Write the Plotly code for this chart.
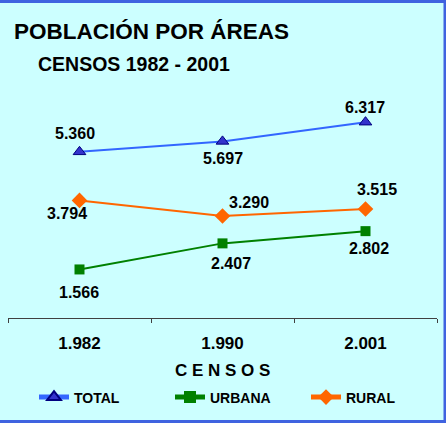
import plotly.graph_objects as go

categories = ["1.982", "1.990", "2.001"]
total = [5360, 5697, 6317]
urbana = [1566, 2407, 2802]
rural = [3794, 3290, 3515]

series_names = ["TOTAL", "URBANA", "RURAL"]

# label offsets (pixels) relative to each point: (dx, dy up)
label_offsets = {
    "TOTAL": [(-5, 18), (0, -17), (-1, 15)],
    "URBANA": [(-1, -23), (8, -20), (3, -17)],
    "RURAL": [(-13, -13), (26, 14), (11, 20)],
}

FONT = "Liberation Sans, Arial, sans-serif"
BG = "#CCFFFF"

W, H = 446, 423
L, R, T, B = 8, 9, 101, 105
pw, ph = W - L - R, H - T - B


def px_x(px):
    return (px - L) / pw


def px_y(py):
    return (H - B - py) / ph


def fmt(v):
    return f"{v:,}".replace(",", ".")


def bold(size):
    return dict(family=FONT, size=size, color="#000000", weight="bold")


fig = go.Figure()
styles = {
    "TOTAL": dict(line=dict(color="#3366FF", width=2),
                  marker=dict(symbol="triangle-up", size=11, color="#3333CC",
                              line=dict(color="#000080", width=1))),
    "URBANA": dict(line=dict(color="#008000", width=2),
                   marker=dict(symbol="square", size=10, color="#008000")),
    "RURAL": dict(line=dict(color="#FF6600", width=2),
                  marker=dict(symbol="diamond", size=12, color="#FF6600")),
}
data = {"TOTAL": total, "URBANA": urbana, "RURAL": rural}

for name in series_names:
    fig.add_trace(go.Scatter(x=categories, y=data[name], mode="lines+markers",
                             name=name, **styles[name]))

annotations = []
for name in series_names:
    for i, (v, (dx, dy)) in enumerate(zip(data[name], label_offsets[name])):
        annotations.append(dict(x=i, y=v, text=fmt(v), showarrow=False,
                                xshift=dx, yshift=dy, xanchor="center", yanchor="middle",
                                font=bold(16)))

annotations += [
    dict(xref="paper", yref="paper", x=px_x(12), y=px_y(32), text="POBLACIÓN POR ÁREAS",
         showarrow=False, xanchor="left", yanchor="middle", font=bold(22.5)),
    dict(xref="paper", yref="paper", x=px_x(36), y=px_y(63.5), text="CENSOS 1982 - 2001",
         showarrow=False, xanchor="left", yanchor="middle", font=bold(19.5)),
    dict(xref="paper", yref="paper", x=px_x(222), y=px_y(370), text="C E N S O S",
         showarrow=False, xanchor="center", yanchor="middle", font=bold(17)),
]

fig.update_layout(
    width=W, height=H,
    margin=dict(l=L, r=R, t=T, b=B, pad=0, autoexpand=False),
    paper_bgcolor=BG, plot_bgcolor=BG,
    font=dict(family=FONT, color="#000000"),
    annotations=annotations,
    showlegend=True,
    legend=dict(orientation="h", x=px_x(34), y=px_y(397.5), xanchor="left", yanchor="middle",
                bgcolor="rgba(0,0,0,0)", font=bold(14),
                entrywidth=91, entrywidthmode="pixels", itemsizing="constant"),
    xaxis=dict(type="category", range=[-0.5, 2.5], showgrid=False, zeroline=False,
               showline=True, linecolor="#404040", linewidth=1,
               ticks="outside", ticklen=4, tickcolor="#404040", tickson="boundaries",
               tickfont=bold(17), ticklabelstandoff=10, fixedrange=True),
    yaxis=dict(range=[0, 7000], visible=False, showgrid=False, zeroline=False, fixedrange=True),
    shapes=[dict(type="rect", xref="paper", yref="paper",
                 x0=px_x(-5), x1=px_x(445), y0=px_y(421.5), y1=px_y(1.5),
                 line=dict(color="#3F63E0", width=3), fillcolor="rgba(0,0,0,0)", layer="above")],
)

fig.write_html("out.html", config={"displayModeBar": False},
               post_script="document.body.style.margin='0';document.body.style.overflow='hidden';")
